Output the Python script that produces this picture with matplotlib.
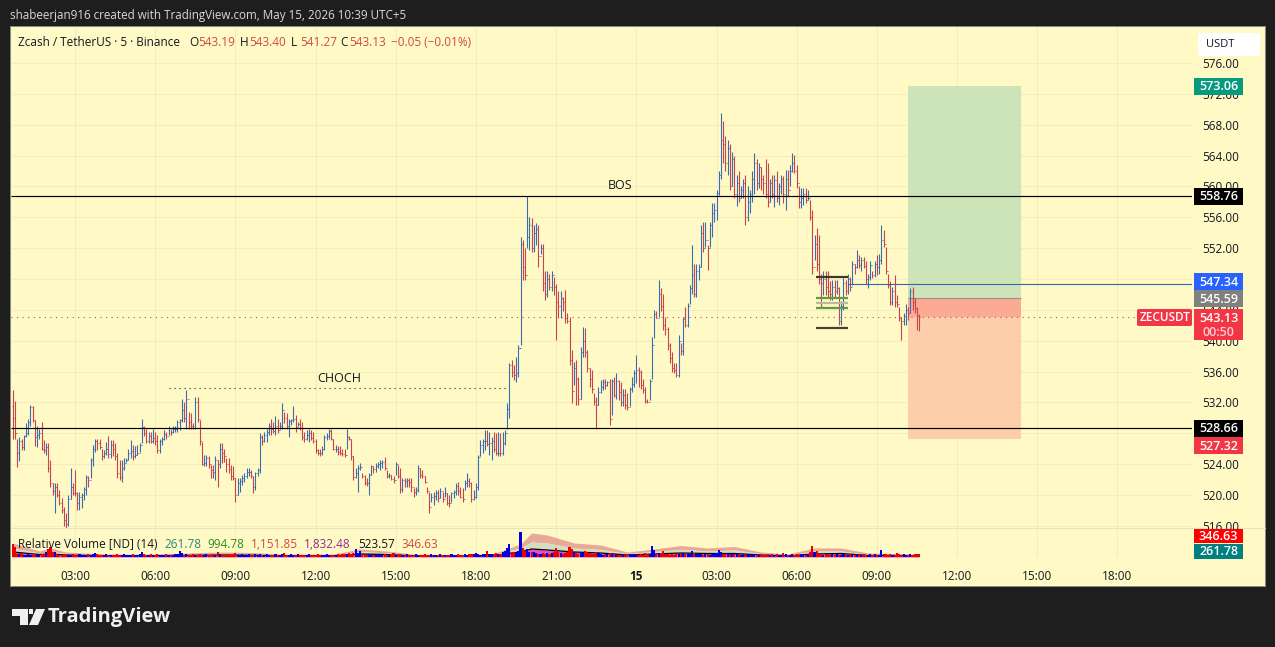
import matplotlib
matplotlib.use("Agg")
from matplotlib import pyplot as plt
from matplotlib.patches import Rectangle, FancyBboxPatch, Polygon

# Data
highs = [
    533.6,532.2,527.2,527.5,527.3,527.8,529.3,529.9,531.7,531.5,
    529.7,528.9,528.6,529.5,527.1,526.7,526.7,524.5,521.5,521.5,
    521.5,520.6,519.6,518.5,517.6,520.0,523.5,521.5,523.2,520.4,
    520.4,520.2,521.1,522.6,522.4,524.8,526.5,527.3,527.3,527.3,
    526.0,525.8,526.9,527.6,527.1,527.1,526.7,525.4,524.5,524.5,
    524.8,524.8,526.0,527.1,526.5,526.3,526.5,526.7,529.8,529.0,
    528.6,528.2,528.2,528.6,528.2,527.8,527.3,527.5,528.4,528.2,
    528.9,528.6,528.9,528.9,529.7,529.9,532.5,532.1,533.6,530.8,
    530.6,529.3,532.7,532.7,529.7,526.9,525.2,525.2,525.0,523.9,
    523.9,525.0,524.5,526.7,526.7,526.0,524.8,524.8,523.9,523.7,
    522.2,522.2,522.2,522.6,522.8,523.5,523.5,523.2,522.4,523.0,
    523.5,528.0,527.8,528.2,528.6,529.3,529.9,529.5,530.2,529.9,
    529.5,531.9,530.8,530.6,529.9,529.9,531.5,530.4,529.5,529.9,
    529.5,528.2,528.4,528.6,528.4,528.2,527.3,526.0,526.0,526.3,
    527.8,528.0,528.6,528.6,527.3,526.5,526.3,526.3,526.0,526.0,
    528.6,527.6,527.3,525.0,523.5,523.9,524.1,522.8,522.6,522.2,
    522.8,523.9,523.7,524.1,524.3,524.5,524.5,524.9,523.2,522.8,
    522.6,522.4,524.3,523.9,523.5,522.2,522.2,522.2,522.2,522.2,
    520.9,521.1,523.9,523.5,523.2,522.4,521.1,520.4,520.2,520.4,
    520.6,520.6,520.9,520.4,521.0,520.2,520.0,520.4,520.6,521.5,
    521.7,521.1,520.9,521.9,522.8,522.2,521.7,520.6,521.5,525.2,
    527.1,527.3,528.4,528.4,528.2,527.5,528.2,528.0,528.2,528.0,
    528.2,528.4,531.9,537.1,537.5,536.9,537.9,539.4,553.5,553.1,
    552.0,558.8,556.1,555.9,555.0,555.2,555.0,552.6,552.6,549.0,
    549.0,548.7,549.0,548.3,547.4,546.4,546.4,545.7,546.6,543.6,
    543.1,538.8,537.3,537.5,535.3,539.2,541.8,541.6,538.8,536.4,
    536.2,533.2,532.7,534.0,534.9,535.0,535.0,534.8,535.1,535.1,
    535.3,535.8,534.9,534.7,533.8,533.8,533.2,534.0,535.3,536.2,
    538.2,536.6,536.2,535.1,534.0,532.5,535.1,540.5,544.0,543.8,
    547.9,546.8,546.1,543.1,541.8,539.7,538.6,537.1,537.1,540.7,
    539.7,543.1,544.4,544.9,547.2,552.4,550.0,550.0,550.0,555.0,
    555.4,555.4,552.4,555.4,557.8,557.8,559.5,562.0,569.5,568.5,
    566.5,566.0,565.5,564.5,564.0,561.5,562.0,560.0,561.0,561.5,
    560.0,559.5,562.0,564.3,563.5,563.0,562.5,561.5,563.5,563.0,
    561.0,561.5,561.5,562.0,560.5,561.5,561.3,562.1,562.1,562.8,
    564.4,564.1,562.8,560.0,559.8,559.8,559.8,559.5,558.2,556.9,
    553.7,554.6,553.7,548.7,549.0,549.0,549.0,547.7,547.9,547.9,
    547.9,547.0,545.1,548.1,547.9,548.7,548.3,550.3,550.0,551.8,
    551.1,550.9,550.8,550.3,548.7,550.3,549.0,550.3,551.1,551.3,
    555.0,554.4,552.2,548.7,547.7,547.0,548.5,545.9,544.4,543.1,
    543.6,544.8,544.4,546.8,547.0,545.5,544.4,543.4,
]
lows = [
    527.2,527.2,523.6,524.4,525.8,525.8,527.5,527.8,528.9,529.5,
    526.3,526.2,527.3,525.8,525.4,525.2,523.0,521.1,520.0,517.6,
    519.8,518.7,517.6,516.0,515.7,516.0,519.5,520.0,519.9,518.1,
    518.0,518.3,519.4,520.0,521.1,522.2,523.7,525.6,525.8,526.0,
    524.5,524.8,525.2,524.8,524.8,525.0,524.5,522.2,521.9,521.7,
    523.2,524.3,524.5,524.8,524.5,524.8,525.2,525.6,526.7,527.6,
    526.7,526.7,526.7,526.7,526.5,525.4,525.4,526.5,527.1,527.3,
    527.8,527.8,528.0,528.2,528.2,528.4,529.5,529.5,528.6,528.6,
    528.6,528.6,528.6,529.5,526.5,523.9,523.7,523.7,523.5,522.2,
    522.2,521.9,521.0,523.5,524.1,524.3,523.0,522.8,521.9,521.9,
    519.1,520.0,520.4,521.3,521.7,522.2,522.4,522.2,520.3,520.6,
    522.4,522.8,526.5,526.9,526.9,527.8,527.8,528.0,527.8,528.0,
    528.6,528.6,529.3,528.6,527.5,529.1,529.5,528.2,528.9,528.4,
    527.1,526.9,527.1,526.9,527.1,526.7,525.4,525.2,525.0,525.2,
    525.8,527.1,527.3,527.1,525.8,525.6,525.2,525.2,525.0,524.9,
    526.0,527.1,524.5,521.9,522.2,520.4,523.2,522.2,521.3,521.2,
    520.0,522.6,522.8,523.0,523.5,523.2,523.5,523.2,522.2,522.2,
    521.9,521.5,522.6,522.2,520.2,520.4,521.1,521.1,521.1,520.4,
    519.8,520.0,520.4,522.2,522.2,521.5,520.2,517.6,519.1,518.7,
    519.4,519.1,519.6,519.1,519.8,518.7,518.4,519.1,519.6,520.0,
    520.0,519.6,519.1,520.6,521.1,521.1,519.1,519.4,519.6,520.6,
    525.0,525.4,525.8,526.3,525.2,524.5,525.6,525.2,525.0,525.0,
    525.2,526.5,528.6,530.0,535.3,534.9,534.7,535.3,539.4,547.9,
    547.9,552.0,551.8,551.5,551.5,552.4,549.6,551.3,546.4,545.3,
    545.7,546.6,546.4,545.9,540.1,542.9,542.9,543.8,542.3,542.3,
    536.9,531.9,534.3,531.7,531.7,532.5,537.9,537.9,536.0,534.0,
    533.2,531.7,528.6,531.7,533.2,533.6,533.8,534.1,529.1,530.4,
    532.7,532.5,532.3,531.5,531.5,531.2,531.0,531.5,533.4,534.0,
    534.5,534.0,533.8,533.2,531.9,531.9,532.3,535.1,540.3,542.9,
    543.1,543.8,541.4,540.7,538.8,537.1,536.0,535.8,535.3,535.3,
    538.2,538.2,541.8,541.8,544.8,546.1,545.7,545.7,547.9,549.6,
    551.5,552.2,549.2,552.2,553.5,555.4,555.7,558.9,561.0,563.0,
    562.0,561.5,559.5,560.0,558.5,557.5,558.0,558.5,558.5,555.0,
    555.5,556.5,558.0,559.0,559.5,559.8,559.5,559.0,558.5,557.3,
    558.0,558.5,557.3,558.0,557.6,559.0,557.8,556.9,558.7,560.0,
    561.9,561.7,559.8,557.2,557.2,557.6,557.8,558.2,555.7,548.7,
    550.5,549.0,547.4,544.4,545.9,545.9,545.7,545.3,545.3,545.7,
    546.1,542.0,542.0,544.0,545.9,546.1,546.4,547.2,548.7,549.4,
    549.4,549.0,549.4,547.4,546.8,547.9,548.1,548.3,548.5,548.7,
    550.0,552.2,548.7,546.8,544.6,544.6,544.4,544.4,542.5,540.1,
    542.0,542.0,542.7,543.6,544.0,543.6,541.4,541.27,
]
closes = [
    530.0,528.0,525.5,527.0,526.2,527.6,528.0,529.5,531.4,529.7,
    527.5,527.8,528.0,526.0,525.8,526.2,523.5,521.5,520.5,521.0,
    520.0,519.0,518.0,516.8,516.2,519.5,521.0,520.3,520.2,519.0,
    519.8,520.0,520.8,522.3,521.9,524.5,526.0,527.0,526.8,526.2,
    525.0,525.5,526.0,525.3,526.5,526.0,525.0,522.8,522.3,523.5,
    524.2,524.6,525.5,525.7,525.0,525.2,525.5,526.5,528.8,528.0,
    527.0,527.7,527.0,527.4,527.0,525.8,527.0,527.2,527.9,527.6,
    528.7,528.2,528.5,528.6,529.5,529.7,531.0,530.0,532.5,529.5,
    529.0,528.7,532.0,529.8,527.0,524.0,524.2,524.8,524.0,523.3,
    523.0,524.5,524.0,526.0,525.5,525.0,524.0,523.4,522.5,522.2,
    520.0,521.5,521.8,522.2,522.5,523.0,523.0,522.4,521.0,522.8,
    523.2,527.5,527.0,527.8,528.2,529.0,528.5,528.3,529.0,528.4,
    529.0,531.0,530.0,529.0,529.6,529.7,529.8,528.8,529.2,528.7,
    527.5,527.3,527.8,528.0,527.4,527.0,525.8,525.5,525.4,526.0,
    527.5,527.6,528.3,527.3,526.0,526.0,525.6,525.4,525.3,525.2,
    527.5,527.3,525.0,522.3,522.9,523.5,523.6,522.4,521.6,521.5,
    522.6,523.7,523.4,523.8,524.0,524.2,524.3,523.5,522.5,522.6,
    522.1,522.0,524.0,522.5,520.8,522.0,521.8,521.9,521.7,521.0,
    520.4,520.6,523.5,522.6,522.4,521.7,520.5,518.5,519.8,519.9,
    520.3,519.6,520.5,519.5,520.2,519.0,518.9,520.2,520.4,521.2,
    520.5,519.8,519.5,521.6,521.8,521.5,519.5,519.7,521.0,524.9,
    526.5,527.0,527.0,526.6,526.8,527.0,526.0,525.5,525.5,525.4,
    526.8,528.0,531.2,536.8,536.0,535.5,535.8,539.0,552.5,549.5,
    548.5,553.5,555.0,552.0,554.0,554.5,551.0,552.0,547.5,546.0,
    548.0,547.0,548.5,547.0,545.0,544.5,545.5,545.0,543.0,542.6,
    537.5,533.5,536.5,535.0,532.5,538.5,540.0,538.5,536.5,535.0,
    533.8,532.2,531.7,533.3,534.0,534.6,534.3,534.7,529.8,534.8,
    533.0,534.8,533.3,532.0,533.0,531.7,531.4,533.8,534.4,535.8,
    536.2,536.0,534.3,533.6,532.2,532.1,534.8,539.5,543.5,543.0,
    546.0,544.5,542.0,541.5,539.5,537.8,536.5,536.2,535.6,540.0,
    538.7,542.8,542.0,544.5,546.8,548.5,546.0,549.0,549.5,554.0,
    552.0,553.0,552.0,555.0,556.5,556.9,559.2,561.5,566.0,565.5,
    563.0,565.0,560.0,563.5,559.0,560.5,558.5,559.5,560.5,556.0,
    558.0,559.0,561.0,563.0,560.5,562.5,561.0,560.5,559.0,558.0,
    560.5,559.0,560.8,558.5,560.0,561.0,559.0,561.0,559.5,562.0,
    563.0,562.0,560.5,558.0,558.5,559.0,558.2,558.5,556.0,549.5,
    552.5,550.0,548.0,547.5,548.0,547.0,546.5,546.0,547.0,546.5,
    546.8,542.5,544.5,547.5,546.5,548.0,547.0,550.0,549.5,550.5,
    549.8,550.5,549.7,548.0,548.2,549.8,548.5,550.0,549.5,550.5,
    553.0,552.5,549.0,547.2,545.0,546.5,545.0,544.8,543.0,542.5,
    543.2,544.0,543.6,546.5,545.0,544.2,543.18,543.13,
]
volumes = [
    1300,1000,350,300,400,250,200,300,250,200,300,250,
    250,300,350,500,800,1000,500,500,300,250,200,250,
    300,250,200,300,200,250,300,200,250,200,300,250,
    300,450,300,200,250,200,300,250,200,250,200,300,
    200,250,300,200,250,200,300,250,200,300,500,300,
    250,200,300,200,250,300,200,250,200,300,250,200,
    250,300,350,600,400,250,300,250,200,300,250,200,
    300,250,200,300,250,200,300,250,500,300,250,200,
    250,300,200,300,400,250,200,300,250,200,300,250,
    200,300,250,350,250,200,300,250,200,250,300,200,
    250,300,400,250,200,300,250,200,300,250,200,250,
    200,300,250,200,250,300,200,250,200,300,250,200,
    250,200,300,250,300,350,300,400,300,400,800,450,
    650,300,250,200,300,250,200,300,250,200,250,300,
    200,250,300,400,250,200,300,250,200,300,250,200,
    250,300,200,250,200,300,250,200,300,200,250,200,
    300,250,200,250,200,300,250,200,300,250,200,300,
    250,300,300,350,400,300,250,300,350,600,350,300,
    300,400,300,350,500,600,900,1300,500,500,400,600,
    2500,900,600,800,500,500,500,400,300,350,400,300,
    400,300,400,500,900,500,400,350,400,500,1000,800,
    500,400,350,500,400,600,500,450,350,300,500,400,
    300,250,300,350,400,300,250,300,250,200,300,250,
    200,300,250,350,300,250,300,250,400,300,350,1100,
    700,350,300,400,600,350,300,250,300,250,300,350,
    300,400,300,350,300,600,400,300,350,300,250,300,
    300,250,350,300,400,700,500,350,300,400,350,400,
    300,400,350,250,300,250,200,300,250,300,200,250,
    300,200,250,300,200,300,250,300,200,250,400,300,
    250,200,300,250,300,200,350,300,250,350,500,1100,
    500,600,350,300,250,300,350,250,300,250,300,200,
    250,300,200,250,300,200,250,300,200,250,300,250,
    200,300,250,300,200,250,700,350,300,250,300,200,
    250,400,300,250,300,250,200,300,250,300,350,346,
]
band_bars = [0,12,17,24,36,48,60,72,84,96,108,120,132,144,156,168,180,192,204,216,
             228,233,240,252,264,276,288,300,312,324,336,348,360,372,384,396,407]
band_upper = [1400,600,900,500,350,300,300,350,450,500,450,300,300,300,800,600,300,250,250,350,
              1300,2400,2200,1400,1200,500,800,1150,900,1050,500,300,900,900,400,350,300]
band_mid = [900,400,550,350,250,200,200,250,300,350,300,200,200,200,550,400,200,180,180,250,
            900,1500,1400,900,750,350,550,750,600,700,350,200,600,600,250,250,200]
ma_line = [500,250,300,200,150,120,120,150,180,200,180,120,120,120,300,250,120,100,100,150,
           500,800,700,500,400,200,300,400,350,350,200,120,300,350,150,150,120]

price_ticks = list(range(516, 580, 4))
time_labels = ["03:00", "06:00", "09:00", "12:00", "15:00", "18:00", "21:00", "15",
               "03:00", "06:00", "09:00", "12:00", "15:00", "18:00"]
first_open = 531.5

# Levels drawn on the chart
bos_level = 558.76
choch_level = 533.87
low_level = 528.66
stop_level = 547.34
last_price = 543.13
target_price = 573.06
entry_price = 545.59
stop_price = 527.32
fib_levels = [548.2, 545.5, 544.9, 544.3, 541.7]
fib_colors = ["#3a3a2a", "#5d9c3f", "#b9b9a0", "#5d9c3f", "#4a4030"]

# Colours
BG = "#1e1e1e"
CREAM = "#fff9c6"
GRID = "#f3edbb"
BLUE = "#3b6bb3"
RED = "#c9434f"
TEXT = "#131722"

plt.rcParams["font.family"] = ["Open Sans", "DejaVu Sans"]
W, H = 1275, 647
fig = plt.figure(figsize=(W / 100, H / 100), dpi=100, facecolor=BG)


# Pixel helpers, origin top left like the screenshot
def fx(x):
    return x / W


def fy(y):
    return 1 - y / H


def axes_box(x0, y0, x1, y1):
    return [fx(x0), fy(y1), (x1 - x0) / W, (y1 - y0) / H]


def fig_rect(x0, y0, x1, y1, color, z=-1):
    fig.add_artist(Rectangle((fx(x0), fy(y1)), (x1 - x0) / W, (y1 - y0) / H,
                             transform=fig.transFigure, facecolor=color,
                             edgecolor="none", zorder=z))


fig_rect(10, 26, 1266, 587, "#8a8a80", z=-2)
fig_rect(11, 27, 1265, 586, CREAM, z=-1)

# Bar index, 5 minute bars, 03:00 is bar 28
X_PER_BAR = 2.2275
xlim = ((11 - 75) / X_PER_BAR + 28, (1192 - 75) / X_PER_BAR + 28)
xticks = [28 + 36 * k for k in range(len(time_labels))]

ax = fig.add_axes(axes_box(11, 27, 1192, 528))
ax.patch.set_alpha(0)
ax.set_xlim(xlim)
ax.set_ylim(515.72, 580.67)
vol = fig.add_axes(axes_box(11, 528, 1192, 557))
vol.patch.set_alpha(0)
vol.set_xlim(xlim)
vol.set_ylim(0, 2900)

for a in (ax, vol):
    for s in a.spines.values():
        s.set_visible(False)
    a.set_xticks(xticks)
    a.grid(axis="x", color=GRID, lw=0.72)
    a.set_axisbelow(True)

# Horizontal grid and price axis
ax.set_yticks(price_ticks)
ax.set_yticklabels([f"{p:.2f}" for p in price_ticks], fontsize=8.5, color=TEXT)
ax.yaxis.tick_right()
ax.tick_params(axis="y", length=0, pad=7.5)
ax.tick_params(axis="x", length=0, labelbottom=False)
ax.hlines(price_ticks, xlim[0], xlim[1], color=GRID, lw=0.72, zorder=0.5)

vol.set_yticks([])
vol.set_xticklabels(time_labels, fontsize=8.5, color=TEXT)
vol.tick_params(axis="x", length=0, pad=9)
for lab, t in zip(vol.get_xticklabels(), time_labels):
    if t == "15":
        lab.set_fontweight("bold")
fig.add_artist(plt.Line2D([fx(11), fx(1265)], [fy(528), fy(528)], color="#e6e2c0", lw=0.72, zorder=-0.5))

# Position tool
box_l, box_r = 401.9, 452.6
ax.fill_between([box_l, box_r], entry_price, target_price, color="#cde4b8", lw=0, zorder=1)
ax.fill_between([box_l, box_r], stop_price, entry_price, color="#fccfaa", lw=0, zorder=1)
ax.fill_between([box_l, box_r], last_price, entry_price, color="#fbab93", lw=0, zorder=1.1)
ax.hlines(entry_price, box_l, box_r, color="#9a8f7a", lw=0.8, zorder=1.2)

# Bars
bars = range(len(closes))
opens = [first_open] + closes[:-1]
colors = [BLUE if c >= o else RED for o, c in zip(opens, closes)]
ax.vlines(bars, lows, highs, colors=colors, lw=0.8, zorder=3)
ax.hlines(opens, [i - 0.45 for i in bars], bars, colors=colors, lw=0.7, zorder=3)
ax.hlines(closes, bars, [i + 0.45 for i in bars], colors=colors, lw=0.7, zorder=3)

# Lines and labels
ax.hlines([bos_level, low_level], xlim[0], xlim[1], color="black", lw=0.85, zorder=4)
ax.hlines(stop_level, 375, xlim[1], color="#3567b0", lw=0.8, zorder=4)
ax.hlines(last_price, xlim[0], 505, color="#b5533f", lw=0.8, linestyles=(0, (1, 4)), zorder=2)
ax.hlines(choch_level, 70, 222, color="#222222", lw=0.8, linestyles=(0, (1, 3.5)), zorder=4)
ax.hlines(fib_levels, 360.5, 375, colors=fib_colors, lw=1.6, zorder=4)
ax.text(272.5, 559.3, "BOS", fontsize=9, color=TEXT, ha="center", va="bottom", zorder=5)
ax.text(146.5, 534.2, "CHOCH", fontsize=9, color=TEXT, ha="center", va="bottom", zorder=5)

# Volume pane
vol.fill_between(band_bars, band_mid, band_upper, color="#e9a999", lw=0, zorder=1)
vol.fill_between(band_bars, ma_line, band_mid, color="#d6dcc0", lw=0, zorder=1)
vol.fill_between(band_bars, 0, ma_line, color="#e050c8", lw=0, zorder=1)
vol.plot(band_bars, ma_line, color="black", lw=0.9, zorder=2)
vol.bar(bars, volumes, width=0.95, color=["#0000e0" if c == BLUE else "#ee0000" for c in colors], zorder=3)


# Axis flags
def flag(y0, y1, color, label=None, tcolor="white"):
    fig_rect(1194, y0, 1243, y1, color, z=6)
    if label:
        fig.text(fx(1218.5), fy((y0 + y1) / 2 + 0.5), label, color=tcolor, fontsize=9,
                 ha="center", va="center", zorder=7, fontweight="semibold")


flag_centers = [86.5, 196.5, 281.5, 298.7, 428.5, 445.5]
flag_prices = [target_price, bos_level, stop_level, entry_price, low_level, stop_price]
flag_colors = ["#089981", "black", "#2962ff", "#808080", "black", "#f23645"]
for y, p, c in zip(flag_centers, flag_prices, flag_colors):
    flag(y - 8.5, y + 8.5, c, f"{p:.2f}")
flag(309, 340, "#f23645")
fig.text(fx(1218.5), fy(318), "543.13", color="white", fontsize=9, ha="center", va="center", zorder=7,
         fontweight="semibold")
fig.text(fx(1218.5), fy(332), "00:50", color="#ffc9cf", fontsize=9, ha="center", va="center", zorder=7,
         fontweight="semibold")
fig.add_artist(FancyBboxPatch((fx(1137), fy(326)), 55 / W, 17 / H, boxstyle="round,pad=0,rounding_size=0.002",
                              transform=fig.transFigure, facecolor="#f23645", edgecolor="none", zorder=6))
fig.text(fx(1164.5), fy(317.8), "ZECUSDT", color="white", fontsize=8.5, ha="center", va="center", zorder=7,
         fontweight="semibold")
flag(529, 542.5, "#ff0000", "346.63")
flag(543.5, 559, "#008080", "261.78")

# USDT button
fig.add_artist(FancyBboxPatch((fx(1198), fy(56)), 62 / W, 23 / H, boxstyle="round,pad=0,rounding_size=0.002",
                              transform=fig.transFigure, facecolor="white", edgecolor="none", zorder=6))
fig.text(fx(1206), fy(44.5), "USDT", color=TEXT, fontsize=8, va="center", zorder=7)

# Header texts
fig.text(fx(10), fy(15), "shabeerjan916 created with TradingView.com, May 15, 2026 10:39 UTC+5",
         color="#d9d9d9", fontsize=8.35, va="center")
fig.text(fx(18), fy(42), "Zcash / TetherUS · 5 · Binance", color=TEXT, fontsize=8.5, va="center", zorder=7)
for x, key, val in [(189, "O", "543.19"), (240, "H", "543.40"), (291, "L", "541.27"), (340, "C", "543.13")]:
    fig.text(fx(x), fy(42), key, color=TEXT, fontsize=8.5, va="center", zorder=7)
    fig.text(fx(x + 9), fy(42), val, color="#cf4a45", fontsize=8.5, va="center", zorder=7)
fig.text(fx(391), fy(42), "−0.05 (−0.01%)", color="#cf4a45", fontsize=8.5, va="center", zorder=7)

# Volume legend
fig.text(fx(18), fy(544), "Relative Volume [ND] (14)", color=TEXT, fontsize=8.5, va="center", zorder=7)
for x, val, c in [(164, "261.78", "#26867f"), (207, "994.78", "#2e8b1f"), (251, "1,151.85", "#cf4a45"),
                  (304, "1,832.48", "#8e2f8e"), (358, "523.57", "#111111"), (401, "346.63", "#cf4a45")]:
    fig.text(fx(x), fy(544), val, color=c, fontsize=8.5, va="center", zorder=7)

# TradingView logo at the bottom
white = "#f0f0f0"
logo_pts = [[(12, 609), (28, 609), (28, 625), (20, 625), (20, 616), (12, 616)],
            [(36, 609), (45, 609), (38, 625), (29, 625)]]
for pts in logo_pts:
    fig.add_artist(Polygon([(fx(x), fy(y)) for x, y in pts], transform=fig.transFigure,
                           facecolor=white, edgecolor="none"))
fig.add_artist(Rectangle((fx(29), fy(613.5)), 4 / W, 4.5 / H, transform=fig.transFigure,
                         facecolor=white, edgecolor="none"))
fig.text(fx(48), fy(617), "TradingView", color=white, fontsize=14.5, fontweight="bold", va="center")

fig.savefig("out.png", dpi=100, facecolor=BG)
